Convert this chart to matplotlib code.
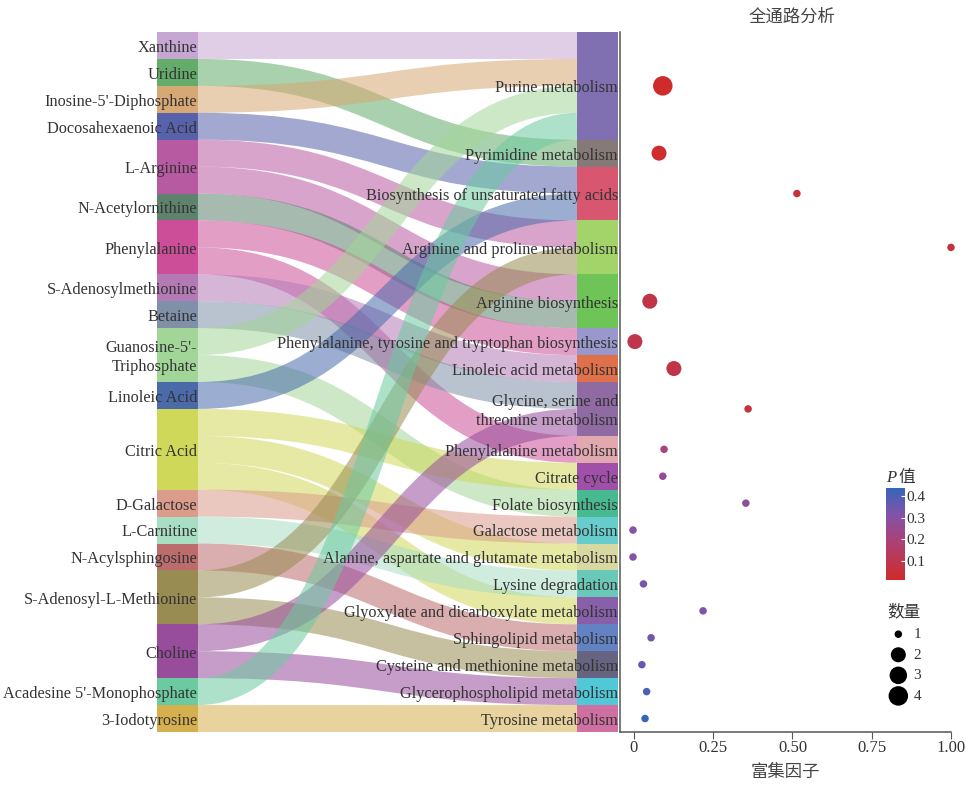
import numpy as np
import matplotlib
matplotlib.use("Agg")
import matplotlib.pyplot as plt
from matplotlib.path import Path
from matplotlib.patches import PathPatch
from matplotlib.colors import LinearSegmentedColormap

plt.rcParams['font.family'] = ['Liberation Serif', 'Noto Sans CJK SC']
plt.rcParams['font.size'] = 11.7
plt.rcParams['text.color'] = '#333333'

# metabolites (left column)
metabolites = ['Xanthine', 'Uridine', "Inosine-5'-Diphosphate", 'Docosahexaenoic Acid',
               'L-Arginine', 'N-Acetylornithine', 'Phenylalanine', 'S-Adenosylmethionine',
               'Betaine', "Guanosine-5'-\nTriphosphate", 'Linoleic Acid', 'Citric Acid',
               'D-Galactose', 'L-Carnitine', 'N-Acylsphingosine', 'S-Adenosyl-L-Methionine',
               'Choline', "Acadesine 5'-Monophosphate", '3-Iodotyrosine']
metab_colors = ['#c6a6d2', '#64ac6a', '#d6a874', '#5862aa', '#b85aa2', '#5e826e', '#cc4e98',
                '#b47ab6', '#8090a8', '#a2d698', '#4a6aaa', '#d0d85a', '#dc9c8c', '#a8dec4',
                '#bc6c6c', '#988c52', '#984c9c', '#6ccaa0', '#d6b04e']

# pathways (right column)
pathways = ['Purine metabolism', 'Pyrimidine metabolism', 'Biosynthesis of unsaturated fatty acids',
            'Arginine and proline metabolism', 'Arginine biosynthesis',
            'Phenylalanine, tyrosine and tryptophan biosynthesis', 'Linoleic acid metabolism',
            'Glycine, serine and\nthreonine metabolism', 'Phenylalanine metabolism', 'Citrate cycle',
            'Folate biosynthesis', 'Galactose metabolism', 'Alanine, aspartate and glutamate metabolism',
            'Lysine degradation', 'Glyoxylate and dicarboxylate metabolism', 'Sphingolipid metabolism',
            'Cysteine and methionine metabolism', 'Glycerophospholipid metabolism', 'Tyrosine metabolism']
path_colors = ['#8070b2', '#867a78', '#d85670', '#a2d46a', '#6ec456', '#9898cc', '#e0704a',
               '#906aa2', '#e2a8b0', '#a050a8', '#48ba92', '#66cccc', '#d8d8a2', '#6ac8b8',
               '#8860aa', '#6282c4', '#666480', '#50c8d8', '#d070a2']

# links: (metabolite index, pathway index), one unit each
link_src = [0, 1, 2, 3, 4, 4, 5, 6, 6, 7, 8, 9, 9, 10, 11, 11, 11, 12, 13, 14, 15, 15, 16, 16, 17, 18]
link_tgt = [0, 1, 0, 2, 3, 4, 4, 5, 8, 6, 7, 0, 10, 2, 9, 12, 14, 11, 13, 15, 3, 16, 7, 17, 0, 18]

# enrichment results per pathway
rich_factor = [0.091, 0.079, 0.514, 1.0, 0.05, 0.003, 0.126, 0.360, 0.095, 0.091,
               0.353, -0.003, -0.003, 0.030, 0.218, 0.054, 0.025, 0.040, 0.035]
p_value = [0.012, 0.02, 0.05, 0.06, 0.08, 0.09, 0.08, 0.06, 0.20, 0.26,
           0.28, 0.30, 0.30, 0.33, 0.32, 0.34, 0.36, 0.40, 0.437]
hit_count = [4, 2, 1, 1, 2, 2, 2, 1, 1, 1, 1, 1, 1, 1, 1, 1, 1, 1, 1]
legend_counts = [1, 2, 3, 4]

W, H = 966, 785
fig = plt.figure(figsize=(W / 100, H / 100), dpi=100)


def px_box(x0, y0, x1, y1):
    return [x0 / W, 1 - y1 / H, (x1 - x0) / W, (y1 - y0) / H]


# ---- sankey ----
n_links = len(link_src)
ax = fig.add_axes(px_box(157, 32, 618, 732))
ax.set_xlim(0, 1)
ax.set_ylim(n_links, 0)
ax.axis('off')
node_w = 41 / 461

src_size = np.bincount(link_src, minlength=len(metabolites))
tgt_size = np.bincount(link_tgt, minlength=len(pathways))
src_top = np.concatenate([[0], np.cumsum(src_size)[:-1]])
tgt_top = np.concatenate([[0], np.cumsum(tgt_size)[:-1]])

ax.barh(src_top + src_size / 2, node_w, height=src_size, left=0, color=metab_colors, zorder=3)
ax.barh(tgt_top + tgt_size / 2, node_w, height=tgt_size, left=1 - node_w, color=path_colors, zorder=3)

# stack links: at the source sorted by target, at the target sorted by source
order = list(range(n_links))
src_off = {}
fill = src_top.astype(float).copy()
for i in sorted(order, key=lambda k: (link_src[k], link_tgt[k])):
    src_off[i] = fill[link_src[i]] + 0.5
    fill[link_src[i]] += 1
tgt_off = {}
fill = tgt_top.astype(float).copy()
for i in sorted(order, key=lambda k: (link_tgt[k], link_src[k])):
    tgt_off[i] = fill[link_tgt[i]] + 0.5
    fill[link_tgt[i]] += 1

unit_pt = 7.0 * 72 / n_links
x0, x1 = node_w, 1 - node_w
xm = (x0 + x1) / 2
for i in order:
    ys, yt = src_off[i], tgt_off[i]
    path = Path([(x0, ys), (xm, ys), (xm, yt), (x1, yt)],
                [Path.MOVETO, Path.CURVE4, Path.CURVE4, Path.CURVE4])
    ax.add_patch(PathPatch(path, facecolor='none', edgecolor=metab_colors[link_src[i]],
                           alpha=0.55, lw=unit_pt, capstyle='butt', zorder=2))

dy = 0.09  # nudge labels down a little so the text sits centred on the band
for name, top, size in zip(metabolites, src_top, src_size):
    ax.text(node_w - 0.002, top + size / 2 + dy, name, ha='right', va='center',
            linespacing=1.25, zorder=4)
for name, top, size in zip(pathways, tgt_top, tgt_size):
    ax.text(1.0, top + size / 2 + dy, name, ha='right', va='center',
            linespacing=1.25, zorder=4)

# ---- enrichment dots ----
ax2 = fig.add_axes(px_box(620, 32, 951, 732))
ax2.set_ylim(n_links, 0)
ax2.set_xlim(-0.044, 1.0)
for s in ['top', 'right']:
    ax2.spines[s].set_visible(False)
for s in ['left', 'bottom']:
    ax2.spines[s].set_color('#555555')
    ax2.spines[s].set_linewidth(1.1)
ax2.set_yticks([])
ax2.set_xticks([0, 0.25, 0.5, 0.75, 1.0])
ax2.set_xticklabels(['0', '0.25', '0.50', '0.75', '1.00'])
ax2.tick_params(axis='x', length=5, color='#555555', labelcolor='#333333', pad=1,
                labelsize=12)
ax2.patch.set_alpha(0)

diam_px = {1: 7.5, 2: 15.0, 3: 17.5, 4: 19.5}


def dot_size(c):
    return (diam_px[c] * 0.72) ** 2


cmap = LinearSegmentedColormap.from_list(
    'pv', [(0, '#cf2b2b'), (0.45, '#a8437a'), (0.7, '#8452a8'), (1, '#3566b8')])
centers = tgt_top + tgt_size / 2
sc = ax2.scatter(rich_factor, centers, s=[dot_size(c) for c in hit_count], c=p_value,
                 cmap=cmap, vmin=min(p_value), vmax=max(p_value), edgecolors='none',
                 clip_on=False, zorder=3)
ax2.set_xlabel('富集因子', color='#444444', labelpad=6.5, fontsize=12.5)
fig.text(792 / W, 1 - 18 / H, '全通路分析', ha='center', va='center', color='#444444',
         fontsize=12.5)

# colour bar for P
cax = fig.add_axes(px_box(886, 488, 905, 580))
cb = fig.colorbar(sc, cax=cax)
cb.outline.set_visible(False)
cb.set_ticks([0.1, 0.2, 0.3, 0.4])
cax.tick_params(direction='in', color='white', length=3, pad=1, labelcolor='#333333',
                labelsize=11)
fig.text(886 / W, 1 - 478 / H, 'P', style='italic', ha='left', va='center', fontsize=12)
fig.text(898 / W, 1 - 478 / H, '值', ha='left', va='center', fontsize=12)

# size legend
handles = [ax2.scatter([], [], s=dot_size(c), color='black', edgecolors='none')
           for c in legend_counts]
leg = fig.legend(handles, [str(c) for c in legend_counts], title='数量',
                 loc='upper left', bbox_to_anchor=(880 / W, 1 - 597 / H),
                 frameon=False, borderpad=0, handlelength=1.4, handletextpad=0.3,
                 labelspacing=0.45, scatterpoints=1, alignment='left',
                 fontsize=11, title_fontsize=12)

fig.savefig('out.png', dpi=100)
